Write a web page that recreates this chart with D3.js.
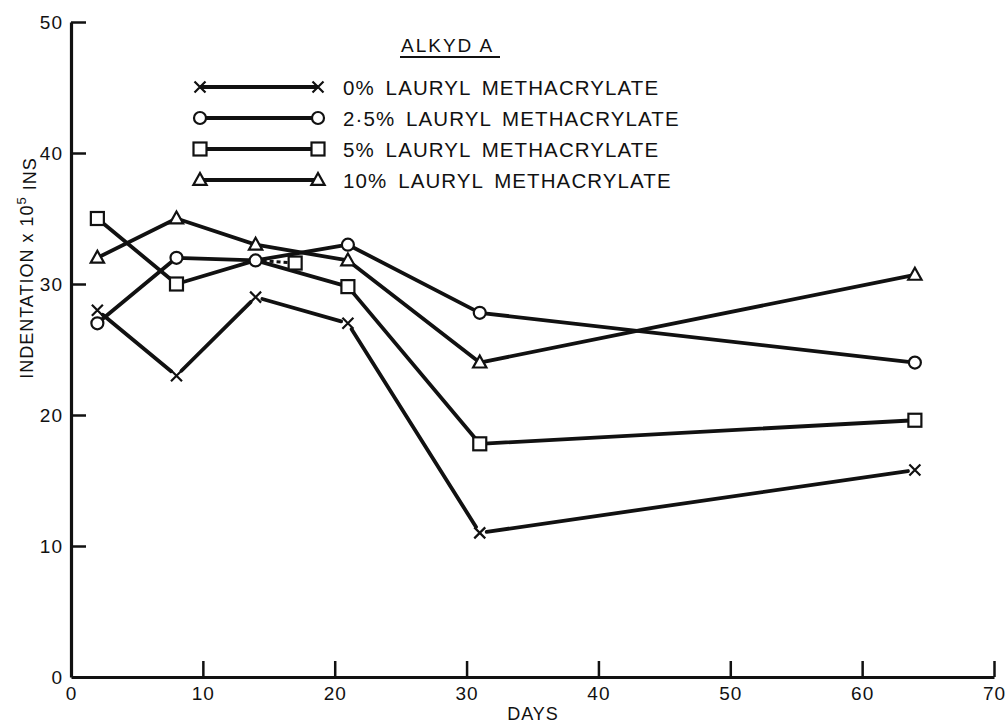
<!DOCTYPE html>
<html>
<head>
<meta charset="utf-8">
<script src="https://cdn.jsdelivr.net/npm/d3@7"></script>
<style>
  html, body { margin: 0; padding: 0; background: #fff; }
  svg { display: block; }
  text { font-family: "Liberation Sans", Arial, sans-serif; fill: #111; }
</style>
</head>
<body>
<svg id="chart" width="1006" height="723"></svg>
<script>
// Indentation vs days, Alkyd A

const days = [2, 8, 14, 21, 31, 64];
const lauryl0 = [28, 23, 29, 27, 11, 15.8];
const lauryl25 = [27, 32, 31.8, 33, 27.8, 24];
const lauryl5 = [35, 30, 31.8, 29.8, 17.8, 19.6];
const lauryl10 = [32, 35, 33, 31.8, 24, 30.7];
// the 5% marker for day 14 was drawn off to the side (day ~17) with a dotted leader
const lauryl5MarkerDays = [2, 8, 17, 21, 31, 64];
const lauryl5MarkerVals = [35, 30, 31.6, 29.8, 17.8, 19.6];

const xTicks = [0, 10, 20, 30, 40, 50, 60, 70];
const yTicks = [0, 10, 20, 30, 40, 50];
const legendLabels = [
    "0% LAURYL METHACRYLATE",
    "2·5% LAURYL METHACRYLATE",
    "5% LAURYL METHACRYLATE",
    "10% LAURYL METHACRYLATE"
];
const symbols = ["cross", "circle", "square", "triangle"];

const svg = d3.select("#chart");
const ink = "#111";

const x = d3.scaleLinear().domain([0, 70]).range([71, 994]);
const y = d3.scaleLinear().domain([0, 50]).range([677, 22]);

// axes
const yAxis = svg.append("g")
    .attr("transform", `translate(${x(0)},0)`)
    .call(d3.axisLeft(y).tickValues(yTicks).tickSizeInner(-15).tickSizeOuter(0).tickPadding(8));
const xAxis = svg.append("g")
    .attr("transform", `translate(0,${y(0)})`)
    .call(d3.axisBottom(x).tickValues(xTicks).tickSizeInner(-16).tickSizeOuter(0).tickPadding(10));

[xAxis, yAxis].forEach(g => {
    g.select(".domain").attr("stroke", ink).attr("stroke-width", 3.2);
    g.selectAll(".tick line").attr("stroke", ink).attr("stroke-width", 2.5);
    g.selectAll(".tick text")
        .attr("font-family", "Liberation Sans, Arial, sans-serif")
        .attr("font-size", 19)
        .attr("letter-spacing", 1)
        .attr("fill", ink);
});
xAxis.selectAll(".tick").filter(d => d === 0).select("line").remove();
yAxis.selectAll(".tick").filter(d => d === 0).select("line").remove();

// axis titles
svg.append("text")
    .attr("x", 533).attr("y", 720)
    .attr("text-anchor", "middle")
    .attr("font-size", 18)
    .attr("letter-spacing", 1)
    .text("DAYS");

const ylab = svg.append("text")
    .attr("transform", "translate(33,268) rotate(-90)")
    .attr("text-anchor", "middle")
    .attr("font-size", 18)
    .attr("letter-spacing", 1);
ylab.append("tspan").text("INDENTATION x 10");
ylab.append("tspan").attr("font-size", 13).attr("dy", "-0.55em").text("5");
ylab.append("tspan").attr("dy", "0.55em").text(" INS");

// marker drawing
function drawMarker(g, sym, cx, cy) {
    if (sym === "cross") {
        const s = 5.5;
        g.append("path")
            .attr("d", `M${cx - s},${cy - s}L${cx + s},${cy + s}M${cx - s},${cy + s}L${cx + s},${cy - s}`)
            .attr("stroke", ink).attr("stroke-width", 2.2).attr("fill", "none");
    } else if (sym === "circle") {
        g.append("circle").attr("cx", cx).attr("cy", cy).attr("r", 6)
            .attr("fill", "#fff").attr("stroke", ink).attr("stroke-width", 2.2);
    } else if (sym === "square") {
        g.append("rect").attr("x", cx - 6.5).attr("y", cy - 6.5).attr("width", 13).attr("height", 13)
            .attr("fill", "#fff").attr("stroke", ink).attr("stroke-width", 2.2);
    } else {
        const s = 7;
        g.append("path")
            .attr("d", `M${cx},${cy - s}L${cx + s * 0.95},${cy + s * 0.7}L${cx - s * 0.95},${cy + s * 0.7}Z`)
            .attr("fill", "#fff").attr("stroke", ink).attr("stroke-width", 2.2);
    }
}

const line = d3.line().x(d => x(d[0])).y(d => y(d[1]));
const plot = svg.append("g");

// 0% series: pen lifted a little short of each cross
const pts0 = days.map((d, i) => [x(d), y(lauryl0[i])]);
d3.pairs(pts0).forEach(([a, b]) => {
    const dx = b[0] - a[0], dy = b[1] - a[1];
    const len = Math.hypot(dx, dy), gap = 7;
    const ux = dx / len, uy = dy / len;
    plot.append("line")
        .attr("x1", a[0] + ux * gap).attr("y1", a[1] + uy * gap)
        .attr("x2", b[0] - ux * gap).attr("y2", b[1] - uy * gap)
        .attr("stroke", ink).attr("stroke-width", 3.8).attr("stroke-linecap", "round");
});

[lauryl25, lauryl5, lauryl10].forEach(vals => {
    plot.append("path")
        .datum(days.map((d, i) => [d, vals[i]]))
        .attr("d", line)
        .attr("fill", "none").attr("stroke", ink)
        .attr("stroke-width", 3.8).attr("stroke-linejoin", "round");
});

// dotted leader to the displaced 5% marker
plot.append("line")
    .attr("x1", x(days[2])).attr("y1", y(lauryl5[2]))
    .attr("x2", x(lauryl5MarkerDays[2])).attr("y2", y(lauryl5MarkerVals[2]))
    .attr("stroke", ink).attr("stroke-width", 3).attr("stroke-dasharray", "4,3");

const markers = svg.append("g");
days.forEach((d, i) => drawMarker(markers, "cross", x(d), y(lauryl0[i])));
days.forEach((d, i) => drawMarker(markers, "circle", x(d), y(lauryl25[i])));
lauryl5MarkerDays.forEach((d, i) => drawMarker(markers, "square", x(d), y(lauryl5MarkerVals[i])));
days.forEach((d, i) => drawMarker(markers, "triangle", x(d), y(lauryl10[i])));

// legend
const legend = svg.append("g");
legend.append("text")
    .attr("x", 401).attr("y", 52)
    .attr("font-size", 19)
    .attr("letter-spacing", 2)
    .text("ALKYD A");
legend.append("line")
    .attr("x1", 400).attr("x2", 500).attr("y1", 57).attr("y2", 57)
    .attr("stroke", ink).attr("stroke-width", 2);

const rowY = d3.scalePoint().domain(d3.range(legendLabels.length)).range([87, 180]);
legendLabels.forEach((lab, i) => {
    const ry = rowY(i);
    legend.append("line")
        .attr("x1", 200).attr("x2", 318).attr("y1", ry).attr("y2", ry)
        .attr("stroke", ink).attr("stroke-width", 3.8);
    drawMarker(legend, symbols[i], 200, ry);
    drawMarker(legend, symbols[i], 318, ry);
    legend.append("text")
        .attr("x", 343).attr("y", ry + 7.5)
        .attr("font-size", 20.5)
        .attr("letter-spacing", 1.1)
        .attr("word-spacing", 4)
        .text(lab);
});
</script>
</body>
</html>
